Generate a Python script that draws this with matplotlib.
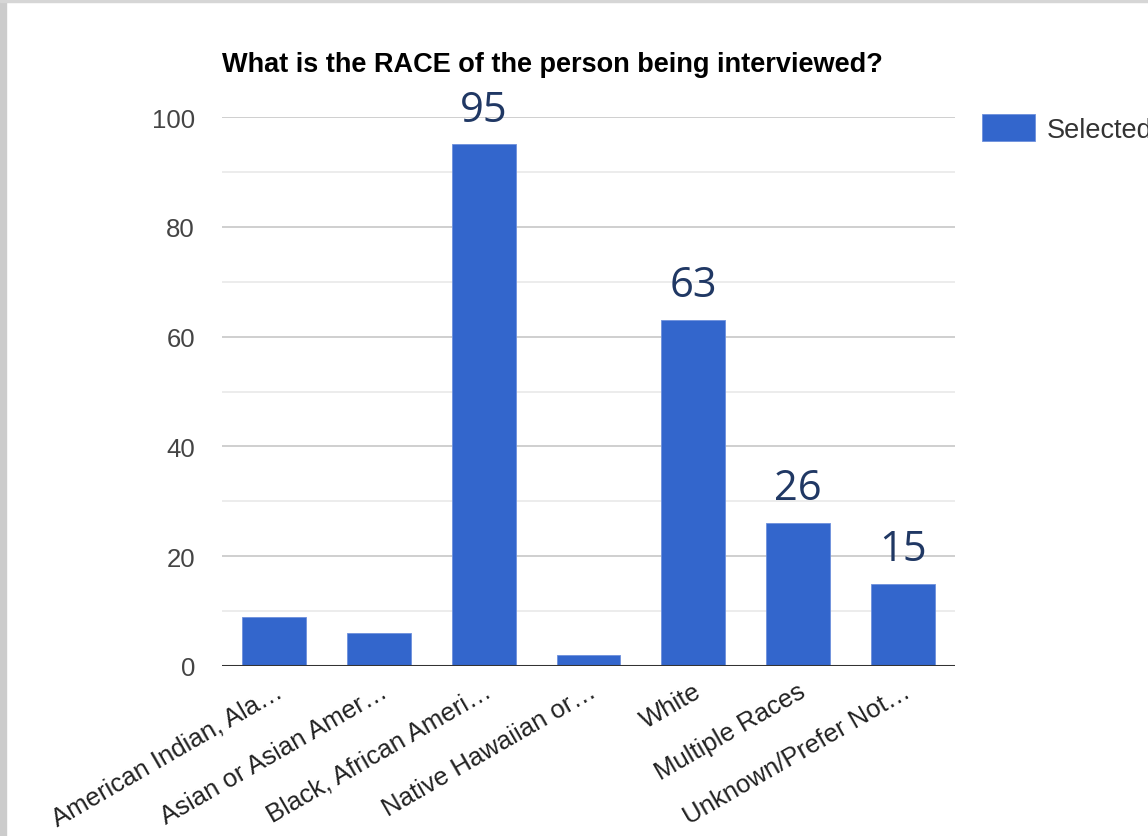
import matplotlib.pyplot as plt
from matplotlib.patches import Rectangle

categories = ['American Indian, Ala…', 'Asian or Asian Amer…', 'Black, African Ameri…',
              'Native Hawaiian or…', 'White', 'Multiple Races', 'Unknown/Prefer Not…']
values = [9, 6, 95, 2, 63, 26, 15]
# callout numbers added on top of some bars
callout_idx = [2, 4, 5, 6]
yticks = [0, 20, 40, 60, 80, 100]

fig = plt.figure(figsize=(11.48, 8.37), dpi=100)
fig.patch.set_facecolor('white')

# screenshot border
fig.patches.append(Rectangle((0, 0), 6 / 1148, 1, transform=fig.transFigure,
                             color='#cccccc', zorder=0))
fig.patches.append(Rectangle((0, 1 - 3 / 837), 1, 3 / 837, transform=fig.transFigure,
                             color='#d6d6d6', zorder=0))

ax = fig.add_axes([222 / 1148, 1 - 667 / 837, 733 / 1148, 549 / 837])
x = range(len(categories))
bars = ax.bar(x, values, width=0.61, color='#3366cc', edgecolor='#6d90dc',
              linewidth=0.6, label='Selected', zorder=3)

ax.set_xlim(-0.5, len(categories) - 0.5)
ax.set_ylim(0, 100)
ax.set_yticks(yticks)
ax.set_yticks([10, 30, 50, 70, 90], minor=True)
ax.grid(axis='y', which='major', color='#cccccc', linewidth=1.3, zorder=0)
ax.grid(axis='y', which='minor', color='#ebebeb', linewidth=1.3, zorder=0)
ax.axhline(0, color='#333333', linewidth=2.2, zorder=4)
for s in ax.spines.values():
    s.set_visible(False)
ax.tick_params(axis='both', which='both', length=0)
ax.tick_params(axis='y', labelsize=18.5, labelcolor='#444444', pad=19.5)
ax.set_xticks(list(x))
ax.set_xticklabels(categories, rotation=30, ha='right', rotation_mode='anchor',
                   fontsize=18.5, color='#222222')
ax.tick_params(axis='x', pad=9)
for lab in ax.get_yticklabels() + ax.get_xticklabels():
    lab.set_family(['Liberation Sans', 'DejaVu Sans'])

ax.set_title('What is the RACE of the person being interviewed?', loc='left',
             fontsize=19.5, fontweight='bold', family='Liberation Sans', pad=33)

for i in callout_idx:
    ax.annotate(str(values[i]), (i, values[i]), xytext=(0, 10), textcoords='offset points',
                ha='center', va='bottom', fontsize=30, color='#203864', family='Open Sans')

leg = ax.legend(loc='upper left', bbox_to_anchor=(982 / 1148, 1 - 115 / 837),
                bbox_transform=fig.transFigure, frameon=False, handlelength=1.95,
                handleheight=1.15, prop={'family': 'Liberation Sans', 'size': 19.5},
                borderaxespad=0, borderpad=0, handletextpad=0.45)
for t in leg.get_texts():
    t.set_color('#333333')

fig.savefig('out.png', dpi=100)
